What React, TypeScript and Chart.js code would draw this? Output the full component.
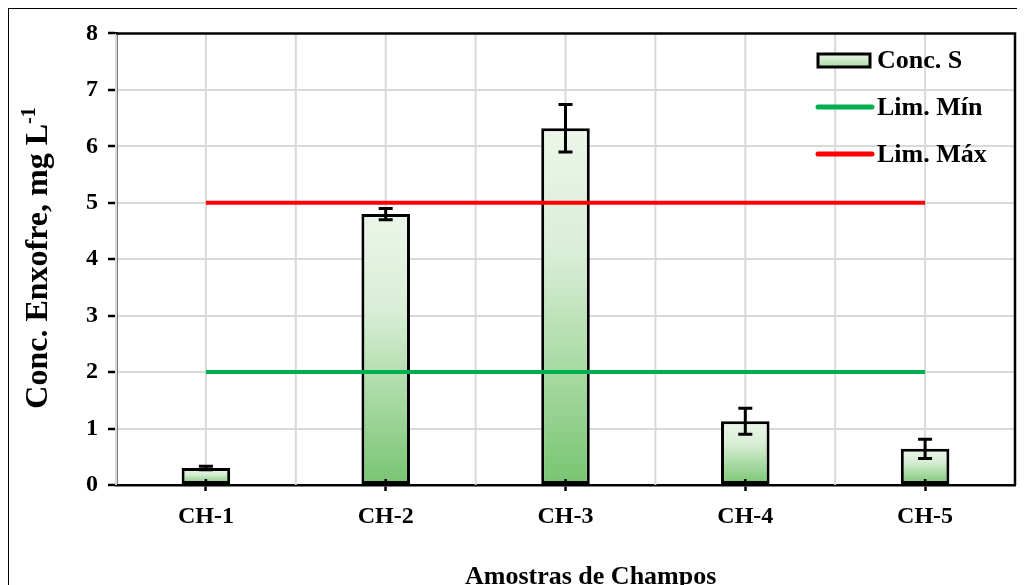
import React, { useEffect, useRef } from "react";
import { Chart, registerables } from "chart.js";

Chart.register(...registerables);

const categories = ["CH-1", "CH-2", "CH-3", "CH-4", "CH-5"];
const concS = [0.3, 4.8, 6.32, 1.13, 0.64];
const concErr = [0.03, 0.1, 0.42, 0.23, 0.17];
const limMin = [2, 2, 2, 2, 2];
const limMax = [5, 5, 5, 5, 5];
const yTicks = [0, 1, 2, 3, 4, 5, 6, 7, 8];

const FONT = "'Liberation Serif', 'Times New Roman', serif";
const GRAD_TOP = "#ecf6ea";
const GRAD_BOTTOM = "#78c571";
const GRID = "#d9d9d9";

const barGradient = (c: any) => {
  const chart = c.chart;
  const { ctx, chartArea, scales } = chart;
  if (!chartArea || c.type !== "data" || !scales.y) return GRAD_BOTTOM;
  const v = c.raw as number;
  const top = scales.y.getPixelForValue(v);
  const bottom = scales.y.getPixelForValue(0);
  if (!isFinite(top) || !isFinite(bottom) || top === bottom) return GRAD_BOTTOM;
  const g = ctx.createLinearGradient(0, top, 0, bottom);
  g.addColorStop(0, GRAD_TOP);
  g.addColorStop(0.35, "#d9eed6");
  g.addColorStop(1, GRAD_BOTTOM);
  return g;
};

const vGridPlugin = {
  id: "vGrid",
  beforeDatasetsDraw(chart: any) {
    const { ctx, chartArea, scales } = chart;
    const xs = scales.x;
    const n = categories.length;
    const positions: number[] = [];
    for (let i = 0; i < n; i++) {
      const c = xs.getPixelForValue(i);
      positions.push(c);
      if (i === 0) {
        const next = xs.getPixelForValue(1);
        positions.push(c - (next - c) / 2);
      }
      if (i < n - 1) {
        positions.push((c + xs.getPixelForValue(i + 1)) / 2);
      }
    }
    ctx.save();
    ctx.strokeStyle = GRID;
    ctx.lineWidth = 2;
    positions.forEach((p) => {
      ctx.beginPath();
      ctx.moveTo(p, chartArea.top);
      ctx.lineTo(p, chartArea.bottom);
      ctx.stroke();
    });
    ctx.restore();
  },
};

const errorBarPlugin = {
  id: "errorBars",
  afterDatasetsDraw(chart: any) {
    const { ctx, scales } = chart;
    const meta = chart.getDatasetMeta(0);
    ctx.save();
    ctx.strokeStyle = "#000";
    ctx.lineWidth = 3;
    meta.data.forEach((el: any, i: number) => {
      const v = concS[i];
      const e = concErr[i];
      const x = el.x;
      const yt = scales.y.getPixelForValue(v + e);
      const yb = scales.y.getPixelForValue(v - e);
      ctx.beginPath();
      ctx.moveTo(x, yt);
      ctx.lineTo(x, yb);
      ctx.moveTo(x - 7, yt);
      ctx.lineTo(x + 7, yt);
      ctx.moveTo(x - 7, yb);
      ctx.lineTo(x + 7, yb);
      ctx.stroke();
    });
    ctx.restore();
  },
};

const decorPlugin = {
  id: "decor",
  afterDraw(chart: any) {
    const { ctx, chartArea, scales } = chart;
    ctx.save();
    // plot border top & right
    ctx.strokeStyle = "#000";
    ctx.lineWidth = 2.5;
    ctx.beginPath();
    ctx.moveTo(chartArea.left, chartArea.top);
    ctx.lineTo(chartArea.right, chartArea.top);
    ctx.lineTo(chartArea.right, chartArea.bottom);
    ctx.stroke();

    // inner part of category tick marks
    ctx.lineWidth = 2.5;
    categories.forEach((_, i) => {
      const x = scales.x.getPixelForValue(i);
      ctx.beginPath();
      ctx.moveTo(x, chartArea.bottom - 6);
      ctx.lineTo(x, chartArea.bottom);
      ctx.stroke();
    });

    // legend
    const lx = 809;
    const tx = 868;
    const rows = [51, 98, 145];
    const labels = chart.data.datasets.map((d: any) => d.label);
    ctx.font = `bold 26px ${FONT}`;
    ctx.textBaseline = "middle";
    ctx.textAlign = "left";
    const g = ctx.createLinearGradient(0, rows[0] - 6, 0, rows[0] + 7);
    g.addColorStop(0, GRAD_TOP);
    g.addColorStop(1, "#a9dba3");
    ctx.fillStyle = g;
    ctx.fillRect(lx, rows[0] - 6, 52, 13);
    ctx.lineWidth = 3;
    ctx.strokeStyle = "#000";
    ctx.strokeRect(lx, rows[0] - 6, 52, 13);
    const colors = ["#00b050", "#ff0000"];
    [1, 2].forEach((k) => {
      ctx.strokeStyle = colors[k - 1];
      ctx.lineWidth = 5;
      ctx.lineCap = "round";
      ctx.beginPath();
      ctx.moveTo(lx, rows[k]);
      ctx.lineTo(lx + 54, rows[k]);
      ctx.stroke();
    });
    ctx.fillStyle = "#000";
    labels.forEach((l: string, i: number) => {
      ctx.fillText(l, tx, rows[i] + 1);
    });

    // x title
    ctx.textAlign = "left";
    ctx.textBaseline = "alphabetic";
    ctx.font = `bold 26px ${FONT}`;
    ctx.fillText("Amostras de Champos", 456, 575);

    // y title with superscript
    ctx.translate(38, 249);
    ctx.rotate(-Math.PI / 2);
    const main = "Conc. Enxofre, mg L";
    const sup = "-1";
    ctx.font = `bold 32px ${FONT}`;
    const wMain = ctx.measureText(main).width;
    ctx.font = `bold 20px ${FONT}`;
    const wSup = ctx.measureText(sup).width;
    const total = wMain + wSup;
    ctx.textAlign = "left";
    ctx.font = `bold 32px ${FONT}`;
    ctx.fillText(main, -total / 2, 0);
    ctx.font = `bold 20px ${FONT}`;
    ctx.fillText(sup, -total / 2 + wMain, -12);
    ctx.restore();
  },
};

export default function App() {
  const ref = useRef<HTMLCanvasElement | null>(null);
  useEffect(() => {
    if (!ref.current) return;
    const chart = new Chart(ref.current, {
      type: "bar",
      data: {
        labels: categories,
        datasets: [
          {
            type: "bar",
            label: "Conc. S",
            data: concS,
            backgroundColor: barGradient,
            borderColor: "#000",
            borderWidth: 3,
            borderSkipped: false,
            categoryPercentage: 1,
            barPercentage: 0.27,
            order: 2,
          } as any,
          {
            type: "line",
            label: "Lim. Mín",
            data: limMin,
            borderColor: "#00b050",
            borderWidth: 4,
            pointRadius: 0,
            fill: false,
            order: 1,
          },
          {
            type: "line",
            label: "Lim. Máx",
            data: limMax,
            borderColor: "#ff0000",
            borderWidth: 4,
            pointRadius: 0,
            fill: false,
            order: 0,
          },
        ],
      },
      options: {
        animation: false,
        responsive: false,
        maintainAspectRatio: false,
        layout: { padding: { top: 23, right: 6, left: 0, bottom: 0 } },
        plugins: {
          legend: { display: false },
          tooltip: { enabled: false },
        },
        scales: {
          x: {
            type: "category",
            position: "bottom",
            grid: {
              display: true,
              drawOnChartArea: false,
              offset: false,
              drawTicks: true,
              tickLength: 6,
              tickColor: "#000",
              tickWidth: 2.5,
            },
            border: { display: true, color: "#000", width: 2.5 },
            ticks: {
              color: "#000",
              font: { family: FONT, size: 24, weight: "bold" },
              padding: 11,
            },
            afterFit: (s: any) => {
              s.height = 114;
            },
          },
          y: {
            min: 0,
            max: 8,
            afterBuildTicks: (s: any) => {
              s.ticks = yTicks.map((v) => ({ value: v }));
            },
            grid: {
              color: (c: any) => (c.tick && c.tick.value === 8 ? "rgba(0,0,0,0)" : GRID),
              lineWidth: 2,
              tickColor: "#000",
              tickWidth: 2.5,
              tickLength: 8,
            },
            border: { display: true, color: "#000", width: 2.5 },
            ticks: {
              color: "#000",
              font: { family: FONT, size: 24, weight: "bold" },
              padding: 10,
            },
            afterFit: (s: any) => {
              s.width = 107;
            },
          },
        },
      },
      plugins: [vGridPlugin, errorBarPlugin, decorPlugin],
    });
    return () => chart.destroy();
  }, []);

  return (
    <div
      style={{
        width: 1012,
        height: 600,
        border: "1px solid #000",
        background: "#fff",
        overflow: "hidden",
      }}
    >
      <canvas ref={ref} width={1012} height={590} style={{ display: "block" }} />
    </div>
  );
}
